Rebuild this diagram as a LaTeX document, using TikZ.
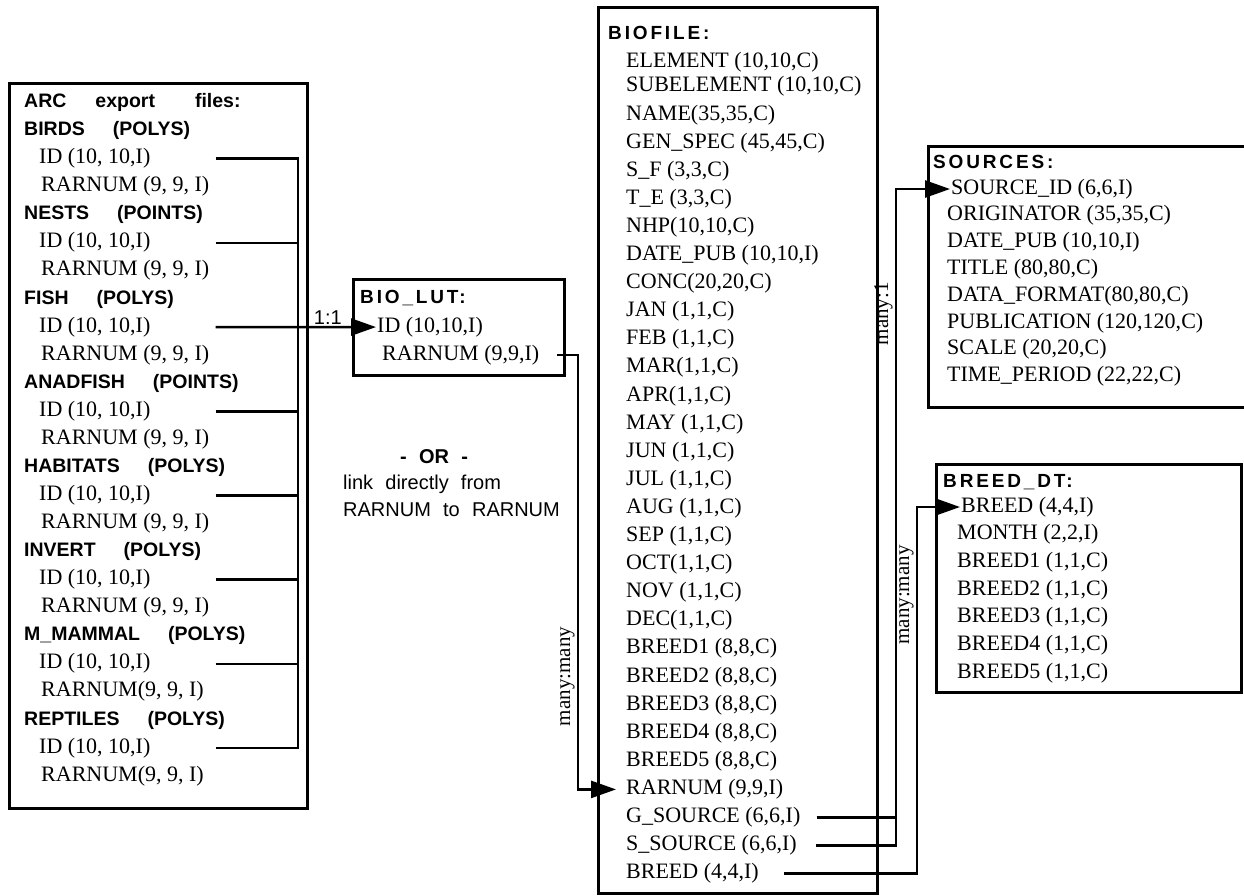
\documentclass[tikz,border=0pt]{standalone}
\usepackage{fontspec}
\setmainfont{Liberation Serif}
\setsansfont{Liberation Sans}
\newfontfamily\hdrfont[LetterSpace=15]{Liberation Sans}
\newfontfamily\notefont[WordSpace=2.2]{Liberation Sans}
\usetikzlibrary{arrows.meta}
\newcommand{\colgap}{\hspace{28pt}}
\tikzset{
    tblbox/.style={draw, line width=2.7pt, inner sep=0pt, anchor=north west},
    fieldtext/.style={anchor=west, inner sep=1pt, text height=15pt, text depth=5pt,
        font=\fontsize{22}{26}\selectfont},
    layertext/.style={anchor=west, inner sep=1pt,
        font=\sffamily\bfseries\fontsize{19.5}{23}\selectfont},
    headtext/.style={anchor=west, inner sep=1pt,
        font=\hdrfont\bfseries\fontsize{19}{23}\selectfont},
    linktext/.style={rotate=90, anchor=south, inner sep=2pt,
        font=\fontsize{21}{25}\selectfont},
    lbltext/.style={anchor=south, inner sep=1pt,
        font=\sffamily\fontsize{20}{24}\selectfont},
    notetext/.style={align=left, inner sep=0pt,
        font=\notefont\fontsize{20}{26.5}\selectfont},
    tblline/.style={line width=2.6pt},
    tblarrow/.style={line width=2.6pt, -{Triangle[length=25pt, width=17pt]}}
}

\begin{document}
\begin{tikzpicture}[x=1pt, y=-1pt]
    \useasboundingbox (0,0) rectangle (1244,895);

    \node[tblbox, minimum width=298pt, minimum height=725pt] (arc) at (8,82) {};
    \node[layertext] (arctitle) at (23,102.5) {ARC\hspace{29pt}export\hspace{40pt}files:};
    \foreach \lyr/\rar [count=\j from 0] in {{BIRDS\colgap(POLYS)}/{RARNUM (9, 9, I)},
            {NESTS\colgap(POINTS)}/{RARNUM (9, 9, I)},
            {FISH\colgap(POLYS)}/{RARNUM (9, 9, I)},
            {ANADFISH\colgap(POINTS)}/{RARNUM (9, 9, I)},
            {HABITATS\colgap(POLYS)}/{RARNUM (9, 9, I)},
            {INVERT\colgap(POLYS)}/{RARNUM (9, 9, I)},
            {M\_MAMMAL\colgap(POLYS)}/{RARNUM(9, 9, I)},
            {REPTILES\colgap(POLYS)}/{RARNUM(9, 9, I)}} {
        \node[layertext] (arclyr\j) at (23,{102.5+28.07*(3*\j+1)}) {\lyr};
        \node[fieldtext] (arcid\j) at (38,{102.5+28.07*(3*\j+2)}) {ID (10, 10,I)};
        \node[fieldtext] (arcrar\j) at (40,{102.5+28.07*(3*\j+3)}) {\rar};
    }

    \node[tblbox, minimum width=211pt, minimum height=96pt] (lut) at (352,278) {};
    \node[headtext] (luttitle) at (359,298) {BIO\_LUT:};
    \node[fieldtext] (lutid) at (376,327.06) {ID (10,10,I)};
    \node[fieldtext] (lutrarnum) at (381,355) {RARNUM (9,9,I)};

    \node[notetext, anchor=north west] (ornote) at (343,449)
        {\hspace*{57pt}\textbf{- OR -}\\link directly from\\RARNUM to RARNUM};

    \node[tblbox, minimum width=279pt, minimum height=886pt] (bio) at (597,6) {};
    \node[headtext] (biotitle) at (607,33) {BIOFILE:};
    \node[fieldtext] (bioelement) at (625,62) {ELEMENT (10,10,C)};
    \node[fieldtext] (biosubelement) at (625,86) {SUBELEMENT (10,10,C)};
    \foreach \nm/\fld [count=\k from 0] in {name/{NAME(35,35,C)},
            genspec/{GEN\_SPEC (45,45,C)}, sf/{S\_F (3,3,C)}, te/{T\_E (3,3,C)},
            nhp/{NHP(10,10,C)}, datepub/{DATE\_PUB (10,10,I)}, conc/{CONC(20,20,C)},
            jan/{JAN (1,1,C)}, feb/{FEB (1,1,C)}, mar/{MAR(1,1,C)}, apr/{APR(1,1,C)},
            may/{MAY (1,1,C)}, jun/{JUN (1,1,C)}, jul/{JUL (1,1,C)}, aug/{AUG (1,1,C)},
            sep/{SEP (1,1,C)}, oct/{OCT(1,1,C)}, nov/{NOV (1,1,C)}, dec/{DEC(1,1,C)},
            breedi/{BREED1 (8,8,C)}, breedii/{BREED2 (8,8,C)}, breediii/{BREED3 (8,8,C)},
            breediv/{BREED4 (8,8,C)}, breedv/{BREED5 (8,8,C)}, rarnum/{RARNUM (9,9,I)},
            gsource/{G\_SOURCE (6,6,I)}, ssource/{S\_SOURCE (6,6,I)},
            breed/{BREED (4,4,I)}}
        \node[fieldtext] (bio\nm) at (625,{115+28.1*\k}) {\fld};

    \node[tblbox, minimum width=323pt, minimum height=261pt] (src) at (927,145) {};
    \node[headtext] (srctitle) at (932,162) {SOURCES:};
    \node[fieldtext] (srcsourceid) at (950,189) {SOURCE\_ID (6,6,I)};
    \foreach \nm/\fld [count=\k from 1] in {originator/{ORIGINATOR (35,35,C)},
            datepub/{DATE\_PUB (10,10,I)}, title/{TITLE (80,80,C)},
            dataformat/{DATA\_FORMAT(80,80,C)}, publication/{PUBLICATION (120,120,C)},
            scale/{SCALE (20,20,C)}, timeperiod/{TIME\_PERIOD (22,22,C)}}
        \node[fieldtext] (src\nm) at (946,{189+26.8*\k}) {\fld};

    \node[tblbox, minimum width=305pt, minimum height=228pt] (brd) at (935,463) {};
    \node[headtext] (brdtitle) at (942,482) {BREED\_DT:};
    \node[fieldtext] (brdbreed) at (960,507) {BREED (4,4,I)};
    \foreach \nm/\fld [count=\k from 1] in {month/{MONTH (2,2,I)},
            breedi/{BREED1 (1,1,C)}, breedii/{BREED2 (1,1,C)}, breediii/{BREED3 (1,1,C)},
            breediv/{BREED4 (1,1,C)}, breedv/{BREED5 (1,1,C)}}
        \node[fieldtext] (brd\nm) at (956,{507+27.7*\k}) {\fld};

    \coordinate (arcbus) at (298,0);
    \coordinate (lutdrop) at (578,0);
    \coordinate (srcbus) at (896,0);
    \coordinate (brdbus) at (917,0);

    \draw[tblline] ([xshift=64pt]arcid0.east) -| (arcid7.east -| arcbus)
        -- ([xshift=64pt]arcid7.east);
    \foreach \j in {1,3,4,5,6}
        \draw[tblline] ([xshift=64pt]arcid\j.east) -- (arcid\j.east -| arcbus);
    \draw[tblarrow] ([xshift=64pt]arcid2.east) -- node[lbltext, pos=0.70] {1:1} (lutid.west);

    \draw[tblarrow, shorten >=9pt] ([xshift=17pt]lutrarnum.east) -- (lutrarnum.east -| lutdrop)
        -- node[linktext, pos=0.74] {many:many} (biorarnum.west -| lutdrop) -- (biorarnum.west);

    \draw[tblline] ([xshift=15pt]biogsource.east) -- (biogsource.east -| srcbus);
    \draw[tblarrow] ([xshift=18pt]biossource.east) -- (biossource.east -| srcbus)
        -- node[linktext, pos=0.81] {many:1} (srcsourceid.west -| srcbus) -- (srcsourceid.west);

    \draw[tblarrow] ([xshift=24pt]biobreed.east) -- (biobreed.east -| brdbus)
        -- node[linktext, pos=0.76] {many:many} (brdbreed.west -| brdbus) -- (brdbreed.west);
\end{tikzpicture}
\end{document}
